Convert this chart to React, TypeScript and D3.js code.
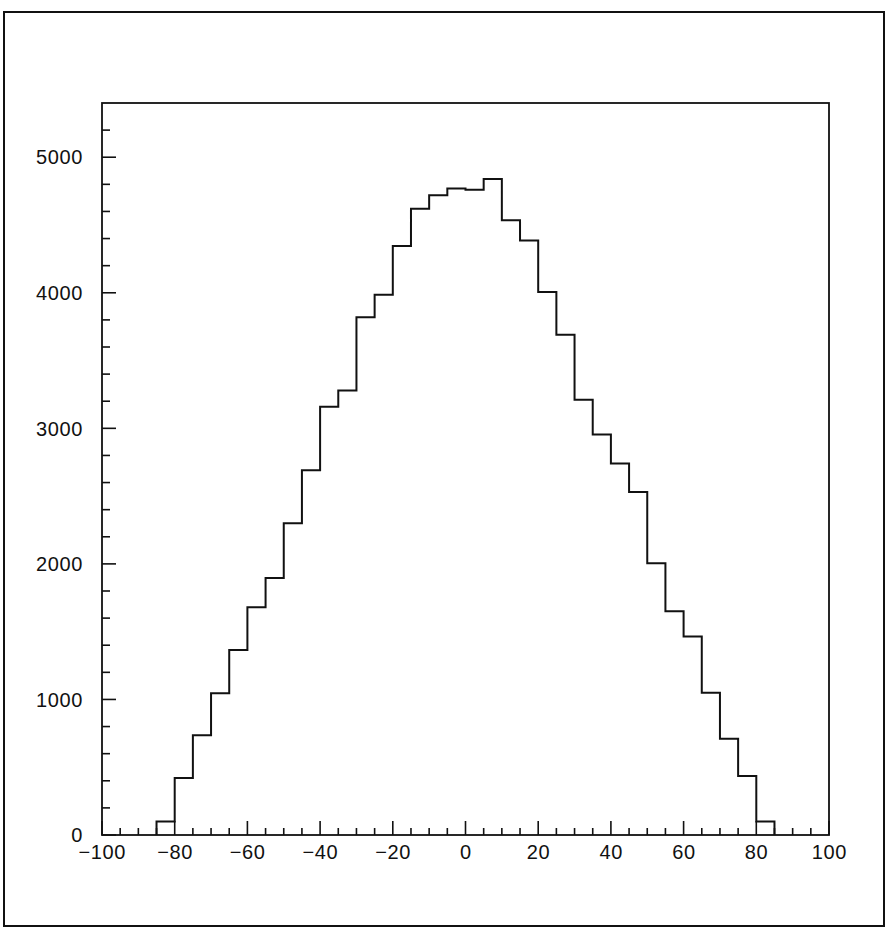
import React from "react";
import * as d3 from "d3";

const binStarts = [-85, -80, -75, -70, -65, -60, -55, -50, -45, -40, -35, -30, -25, -20, -15, -10, -5, 0, 5, 10, 15, 20, 25, 30, 35, 40, 45, 50, 55, 60, 65, 70, 75, 80];
const binEnd = 85;
const counts = [100, 420, 735, 1045, 1365, 1680, 1895, 2300, 2690, 3160, 3280, 3820, 3985, 4345, 4620, 4720, 4770, 4760, 4840, 4535, 4385, 4005, 3690, 3210, 2955, 2740, 2530, 2005, 1650, 1465, 1050, 710, 435, 100];
const xMajorTicks = [-100, -80, -60, -40, -20, 0, 20, 40, 60, 80, 100];
const yMajorTicks = [0, 1000, 2000, 3000, 4000, 5000];

const W = 885, H = 931;
const L = 102, R = 829, T = 103, B = 835;

export default function App() {
  const x = d3.scaleLinear().domain([-100, 100]).range([L, R]);
  const y = d3.scaleLinear().domain([0, 5400]).range([B, T]);

  const pts: [number, number][] = [[binStarts[0], 0], ...binStarts.map((s, i) => [s, counts[i]] as [number, number]), [binEnd, 0]];
  const line = d3.line<[number, number]>().x(d => x(d[0])).y(d => y(d[1])).curve(d3.curveStepAfter);

  const xMinor = d3.range(-95, 100, 5).filter(v => v % 20 !== 0);
  const yMinor = d3.range(200, 5400, 200).filter(v => v % 1000 !== 0);
  const font = "'Liberation Sans', Arial, sans-serif";
  const fmt = (v: number) => (v < 0 ? "\u2212" + Math.abs(v) : String(v));

  return (
    <svg width={W} height={H} style={{ position: "absolute", left: 0, top: 0, background: "#fff" }}>
      <rect x={4} y={12} width={880} height={914} fill="none" stroke="#111" strokeWidth={2} />
      <rect x={L} y={T} width={R - L} height={B - T} fill="none" stroke="#111" strokeWidth={1.8} />
      {xMajorTicks.map(v => (
        <g key={"xm" + v}>
          <line x1={x(v)} x2={x(v)} y1={B} y2={B - 14} stroke="#111" strokeWidth={1.6} />
          <text x={x(v) + 0.3} y={B + 24} textAnchor="middle" fontFamily={font} fontSize={20} letterSpacing={0.6} fill="#111">{fmt(v)}</text>
        </g>
      ))}
      {xMinor.map(v => (
        <line key={"xn" + v} x1={x(v)} x2={x(v)} y1={B} y2={B - 7} stroke="#111" strokeWidth={1.6} />
      ))}
      {yMajorTicks.map(v => (
        <g key={"ym" + v}>
          <line x1={L} x2={L + 14} y1={y(v)} y2={y(v)} stroke="#111" strokeWidth={1.6} />
          <text x={L - 19} y={y(v)} dy="0.36em" textAnchor="end" fontFamily={font} fontSize={20} letterSpacing={0.6} fill="#111">{fmt(v)}</text>
        </g>
      ))}
      {yMinor.map(v => (
        <line key={"yn" + v} x1={L} x2={L + 8} y1={y(v)} y2={y(v)} stroke="#111" strokeWidth={1.6} />
      ))}
      <path d={line(pts) || ""} fill="none" stroke="#111" strokeWidth={2} />
    </svg>
  );
}
